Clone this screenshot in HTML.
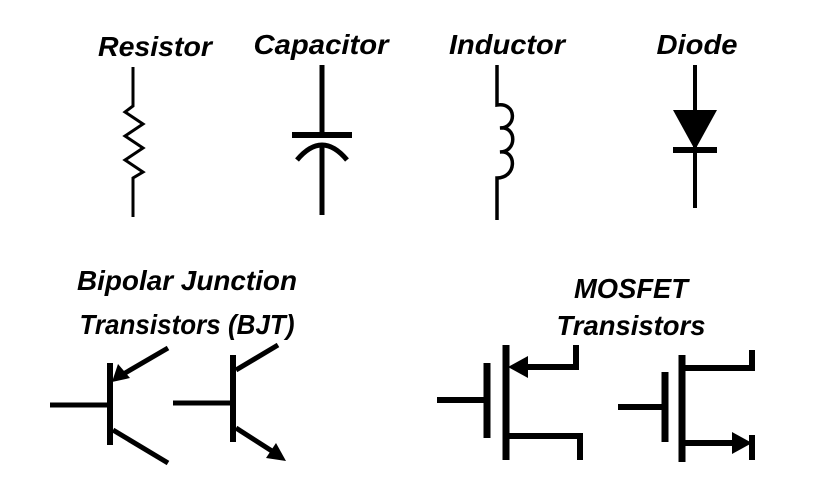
<!DOCTYPE html>
<html><head><style>
html,body{margin:0;padding:0;background:#fff;}
svg{display:block;}
text{font-family:"Liberation Sans",sans-serif;font-weight:bold;font-style:italic;font-size:28px;fill:#000;}
</style></head><body>
<svg width="817" height="503" viewBox="0 0 817 503" xmlns="http://www.w3.org/2000/svg">
<text x="155" y="56" text-anchor="middle" textLength="114" lengthAdjust="spacingAndGlyphs">Resistor</text>
<text x="321" y="54" text-anchor="middle" textLength="135" lengthAdjust="spacingAndGlyphs">Capacitor</text>
<text x="507" y="54" text-anchor="middle" textLength="116" lengthAdjust="spacingAndGlyphs">Inductor</text>
<text x="697" y="54" text-anchor="middle" textLength="81" lengthAdjust="spacingAndGlyphs">Diode</text>
<text x="187" y="290" text-anchor="middle" textLength="220" lengthAdjust="spacingAndGlyphs">Bipolar Junction</text>
<text x="187" y="334" text-anchor="middle" textLength="215" lengthAdjust="spacingAndGlyphs">Transistors (BJT)</text>
<text x="631" y="298" text-anchor="middle" textLength="114" lengthAdjust="spacingAndGlyphs">MOSFET</text>
<text x="631" y="335" text-anchor="middle" textLength="149" lengthAdjust="spacingAndGlyphs">Transistors</text>
<g fill="none" stroke="#000" stroke-linecap="butt">
<polyline stroke-width="3" points="133,67 133,106 125,112 143,124 125,136 143,148 125,160 143,172 133,178 133,217"/>
<line stroke-width="5" x1="322" y1="65" x2="322" y2="133"/>
<line stroke-width="6" x1="292" y1="135" x2="352" y2="135"/>
<path stroke-width="5" d="M297,160 Q322,130 347,160"/>
<line stroke-width="5" x1="322" y1="143" x2="322" y2="215"/>
<path stroke-width="3.5" d="M497,65 L497,105 C517,102 517,128 500,128 C517,126 517,152 500,152 C517,150 517,178 497,178 L497,220"/>
<line stroke-width="4" x1="695" y1="65" x2="695" y2="208"/>
<line stroke-width="6" x1="673" y1="150" x2="717" y2="150"/>
<line stroke-width="5" x1="50" y1="405" x2="110" y2="405"/>
<line stroke-width="6" x1="110" y1="363" x2="110" y2="445"/>
<line stroke-width="5" x1="168" y1="348" x2="120" y2="376"/>
<line stroke-width="5" x1="113" y1="430" x2="168" y2="463"/>
<line stroke-width="5" x1="173" y1="403" x2="233" y2="403"/>
<line stroke-width="6" x1="233" y1="355" x2="233" y2="442"/>
<line stroke-width="5" x1="236" y1="370" x2="278" y2="345"/>
<line stroke-width="5" x1="236" y1="428" x2="275" y2="453"/>
<line stroke-width="6" x1="437" y1="400" x2="487" y2="400"/>
<line stroke-width="7" x1="487" y1="363" x2="487" y2="438"/>
<line stroke-width="7" x1="506" y1="345" x2="506" y2="460"/>
<polyline stroke-width="6" points="520,367 576,367 576,345"/>
<polyline stroke-width="6" points="506,436 580,436 580,460"/>
<line stroke-width="6" x1="618" y1="407" x2="665" y2="407"/>
<line stroke-width="7" x1="665" y1="372" x2="665" y2="442"/>
<line stroke-width="7" x1="682" y1="355" x2="682" y2="462"/>
<polyline stroke-width="6" points="682,368 752,368 752,350"/>
<line stroke-width="6" x1="682" y1="443" x2="738" y2="443"/>
<line stroke-width="6" x1="752" y1="435" x2="752" y2="460"/>
</g>
<g fill="#000">
<polygon points="673,110 717,110 695,150"/>
<polygon points="112,382 118,364 130,378"/>
<polygon points="286,461 266,458 276,443"/>
<polygon points="508,367 528,356 528,378"/>
<polygon points="752,443 732,432 732,454"/>
</g>
</svg>
</body></html>
